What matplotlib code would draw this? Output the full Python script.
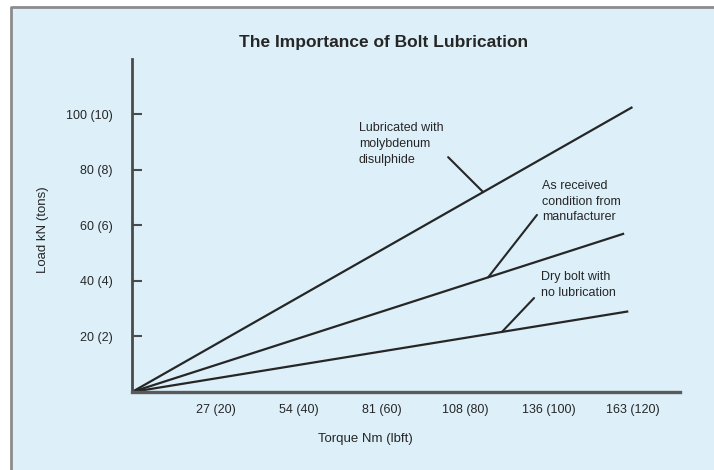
"""
The Importance of Bolt Lubrication: load vs torque for three bolt conditions.
"""

import matplotlib
matplotlib.use('Agg')
import matplotlib.pyplot as plt
from matplotlib.patches import Rectangle
from matplotlib.lines import Line2D

# ─────────────────────────────────────────────────────────────────────
# Data (torque in lbft, load in kN)
# ─────────────────────────────────────────────────────────────────────

lubricated_torque  = [0, 120]
lubricated_load    = [0, 102.5]

as_received_torque = [0, 118]
as_received_load   = [0, 57]

dry_torque         = [0, 119]
dry_load           = [0, 29]

x_ticks       = [20, 40, 60, 80, 100, 120]
x_tick_labels = ['27 (20)', '54 (40)', '81 (60)', '108 (80)',
                 '136 (100)', '163 (120)']

y_ticks       = [20, 40, 60, 80, 100]
y_tick_labels = ['20 (2)', '40 (4)', '60 (6)', '80 (8)', '100 (10)']

labels = ['Lubricated with\nmolybdenum\ndisulphide',
          'As received\ncondition from\nmanufacturer',
          'Dry bolt with\nno lubrication']

BG     = '#ddf0fa'
INK    = '#262626'
FONT   = 'Liberation Sans'

# ─────────────────────────────────────────────────────────────────────
# Figure
# ─────────────────────────────────────────────────────────────────────

W, H = 714, 470
fig = plt.figure(figsize=(W / 100, H / 100), dpi=100, facecolor='white')

# light blue panel, grey frame on top and left edges
x0, y1 = 11 / W, 1 - 7 / H
fig.add_artist(Rectangle((x0, -0.05), 1.1, y1 + 0.05,
                         transform=fig.transFigure,
                         facecolor=BG, edgecolor='none', zorder=-10))
fig.add_artist(Line2D([x0, x0, 1.05], [-0.05, y1, y1],
                      transform=fig.transFigure,
                      color='#8c8c8c', linewidth=2, zorder=-9))

ax = fig.add_axes([132 / W, 78 / H, 548 / W, 333 / H])
ax.set_facecolor('none')
ax.set_xlim(0, 131.4)
ax.set_ylim(0, 119.8)

for sp in ['top', 'right']:
    ax.spines[sp].set_visible(False)
ax.spines['left'].set_color('#4a4a4a')
ax.spines['left'].set_linewidth(2)
ax.spines['bottom'].set_color('#5a5a5a')
ax.spines['bottom'].set_linewidth(2.4)

line_kw = dict(color=INK, linewidth=1.6, solid_capstyle='butt', clip_on=False)
ax.plot(lubricated_torque, lubricated_load, **line_kw)
ax.plot(as_received_torque, as_received_load, **line_kw)
ax.plot(dry_torque, dry_load, **line_kw)

ax.set_xticks(x_ticks)
ax.set_xticklabels(x_tick_labels, fontfamily=FONT, fontsize=9, color=INK)
ax.tick_params(axis='x', length=0, pad=9)

ax.set_yticks(y_ticks)
ax.set_yticklabels(y_tick_labels, fontfamily=FONT, fontsize=9, color=INK)
ax.tick_params(axis='y', direction='in', length=7, width=1.5,
               color='#4a4a4a', pad=14)

ax.set_xlabel('Torque Nm (lbft)', fontfamily=FONT, fontsize=9.5, color=INK)
ax.xaxis.set_label_coords(0.425, -0.123)
ax.set_ylabel('Load kN (tons)', fontfamily=FONT, fontsize=9.5, color=INK)
ax.yaxis.set_label_coords(-0.151, 0.486)

fig.text(0.537, 1 - 42 / H, 'The Importance of Bolt Lubrication',
         fontfamily=FONT, fontsize=12.5, fontweight='bold', color=INK,
         ha='center', va='center')

# annotations with leader lines
arrow = dict(arrowstyle='-', color=INK, linewidth=1.5,
             shrinkA=0, shrinkB=0)
text_kw = dict(fontfamily=FONT, fontsize=9, color=INK, ha='left',
               va='top', linespacing=1.4)

ax.text(54.4, 97, labels[0], **text_kw)
ax.annotate('', xy=(84.2, lubricated_load[1] * 84.2 / lubricated_torque[1]),
            xytext=(75.8, 84.5), arrowprops=arrow)

ax.text(98.3, 76.2, labels[1], **text_kw)
ax.annotate('', xy=(85.4, as_received_load[1] * 85.4 / as_received_torque[1]),
            xytext=(97.1, 63.7), arrowprops=arrow)

ax.text(98.1, 43.4, labels[2], **text_kw)
ax.annotate('', xy=(88.7, dry_load[1] * 88.7 / dry_torque[1]),
            xytext=(96.4, 33.8), arrowprops=arrow)

plt.savefig('out.png', dpi=100, facecolor=fig.get_facecolor())
plt.close()
